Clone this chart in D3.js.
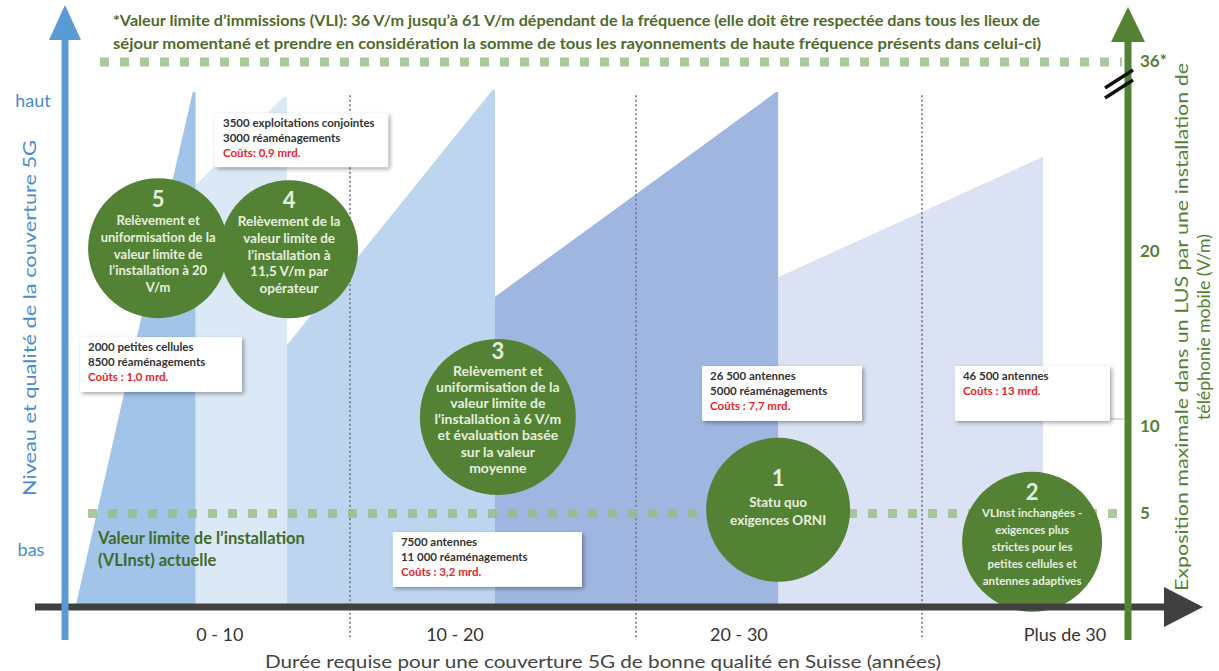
<!DOCTYPE html>
<html><head><meta charset="utf-8">
<script src="https://cdn.jsdelivr.net/npm/d3@7/dist/d3.min.js"></script>
<style>
html,body{margin:0;padding:0;background:#fff;}
svg{display:block;font-family:Lato,"Open Sans",sans-serif;}
</style></head>
<body>
<svg id="c" width="1219" height="671"></svg>
<script>
// ---------- DATA ----------
const categories = ["0 - 10", "10 - 20", "20 - 30", "Plus de 30"];
const categoryLabelYears = [5.45, 13.67, 23.6, 35.0];
const separatorYears = [10, 20, 30];
const rightTicks = [5, 10, 20];
const rightTopTick = 36;
const scenarioIds = ["2", "1", "3", "4", "5"];
// polygons: [year, coverage level 0..100]
const scenario2 = [[24.97,0],[24.97,63.8],[34.2,87.0],[34.23,87.0],[34.23,0]];
const scenario1 = [[15.07,0],[15.07,60.0],[24.9,99.6],[24.97,99.6],[24.97,0]];
const scenario3 = [[7.8,0],[7.8,50.7],[14.98,100],[15.07,100],[15.07,0]];
const scenario4 = [[4.6,0],[4.6,81.6],[7.66,98.6],[7.8,98.6],[7.8,0]];
const scenario5 = [[0.4,0],[4.5,99.6],[4.6,99.6],[4.6,0]];
const scenarioPolys = [scenario2, scenario1, scenario3, scenario4, scenario5];

const circleIds = ["5","4","3","1","2"];
const circleTexts = [
  ["Relèvement et","uniformisation de la","valeur limite de","l’installation à 20","V/m"],
  ["Relèvement de la","valeur limite de","l’installation à","11,5 V/m  par","opérateur"],
  ["Relèvement et","uniformisation de la","valeur limite de","l’installation à 6 V/m","et évaluation basée","sur la valeur","moyenne"],
  ["Statu quo","exigences ORNI"],
  ["VLInst inchangées -","exigences plus","strictes pour les","petites cellules et","antennes adaptives"]
];
const boxTexts = [
  ["3500 exploitations  conjointes","3000 réaménagements"],
  ["2000 petites cellules","8500 réaménagements"],
  ["7500 antennes","11 000 réaménagements"],
  ["26 500 antennes","5000 réaménagements"],
  ["46 500 antennes"]
];
const boxCosts = ["Coûts:  0,9 mrd.","Coûts : 1,0 mrd.","Coûts :  3,2 mrd.","Coûts : 7,7 mrd.","Coûts : 13 mrd."];

const noteLines = [
  "*Valeur limite d’immissions (VLI): 36 V/m jusqu’à 61 V/m dépendant de la fréquence (elle doit être respectée dans tous les lieux de",
  "séjour momentané et prendre en considération la somme de tous les rayonnements de haute fréquence présents dans celui-ci)"
];
const xTitle = "Durée requise pour une couverture 5G de bonne qualité en Suisse (années)";
const leftTitle = "Niveau et qualité de la couverture 5G";
const rightTitle = ["Exposition maximale dans un LUS par une installation de","téléphonie mobile  (V/m)"];

// ---------- LAYOUT / STYLE ----------
const svg = d3.select("#c");
const x = d3.scaleLinear().domain([0, 40]).range([64, 1208]);
const cov = d3.scaleLinear().domain([0, 100]).range([607, 90]);
const vm = d3.scaleLinear().domain([0, 20, 36]).range([600, 250, 60]);

const polyColors = {"2":"#dae2f3","1":"#9fb6e1","3":"#bdd5ef","4":"#dbe8f6","5":"#a1c4e8"};
const green = "#548235", blue = "#5b9bd5", dark = "#404040";

const defs = svg.append("defs");
const f = defs.append("filter").attr("id","sh").attr("x","-10%").attr("y","-20%").attr("width","125%").attr("height","150%");
f.append("feDropShadow").attr("dx",2).attr("dy",2).attr("stdDeviation",2).attr("flood-color","#000").attr("flood-opacity",0.35);

// polygons
const line = d3.line().x(d => x(d[0])).y(d => cov(d[1]));
svg.append("g").selectAll("path").data(scenarioPolys).join("path")
  .attr("d", d => line(d) + "Z")
  .attr("fill", (d,i) => polyColors[scenarioIds[i]]);

// vertical separators
svg.append("g").selectAll("line").data(separatorYears).join("line")
  .attr("x1", d => x(d)).attr("x2", d => x(d))
  .attr("y1", cov(99)).attr("y2", 640)
  .attr("stroke", "#6f7480").attr("stroke-width", 1.6).attr("stroke-dasharray", "2,2.5");

// gray reference line near 10 V/m
svg.append("line").attr("x1", x(34.23)).attr("x2", 1124)
  .attr("y1", vm(10) - 6).attr("y2", vm(10) - 6)
  .attr("stroke", "#b8b8b8").attr("stroke-width", 1.2);

// dotted limit lines
svg.append("line").attr("x1", 100).attr("x2", 1122).attr("y1", vm(rightTopTick)+2).attr("y2", vm(rightTopTick)+2)
  .attr("stroke", "#a9c99b").attr("stroke-width", 9).attr("stroke-dasharray", "9,11");
svg.append("line").attr("x1", 88).attr("x2", 1120).attr("y1", vm(5)+1).attr("y2", vm(5)+1)
  .attr("stroke", "#98bd88").attr("stroke-width", 9).attr("stroke-dasharray", "9,11").attr("opacity", 0.8);

// boxes
const boxPos = [ // [year0, year1, cov0(top), cov1(bottom)]
  [5.28, 11.33, 95.5, 85.1],
  [0.56, 6.22, 52.2, 41.6],
  [11.5, 18.11, 14.5, 3.9],
  [22.31, 27.9, 46.6, 36.0],
  [31.15, 36.57, 46.6, 36.0]
];
boxPos.forEach((b, i) => {
  const g = svg.append("g");
  const x0 = x(b[0]), x1 = x(b[1]), y0 = cov(b[2]), y1 = cov(b[3]);
  g.append("rect").attr("x", x0).attr("y", y0).attr("width", x1 - x0).attr("height", y1 - y0)
    .attr("fill", "#fff").attr("filter", "url(#sh)");
  const lines = boxTexts[i];
  lines.forEach((t, j) => {
    g.append("text").attr("x", x0 + 8).attr("y", y0 + 14 + j * 15)
      .attr("font-size", 11.5).attr("font-weight", "bold").attr("fill", "#333").text(t);
  });
  g.append("text").attr("x", x0 + 8).attr("y", y0 + 14 + lines.length * 15)
    .attr("font-size", 11.5).attr("font-weight", "bold").attr("fill", "#e8262a").text(boxCosts[i]);
});

// circles
const circlePos = [ // [year, cov, r, numberOffset, lineStart, lineStep, fontSize]
  [3.29, 69.4, 70, -50, -28, 16.7, 13],
  [7.87, 69.2, 69, -50, -28, 16.7, 13.5],
  [15.17, 36.75, 78, -67, -47, 16.2, 14],
  [24.97, 18.8, 72, -32, -8, 18, 13.5],
  [33.85, 12.6, 70, -50, -29, 16.8, 11.5]
];
circlePos.forEach((c, i) => {
  const g = svg.append("g");
  const cx = x(c[0]), cy = cov(c[1]);
  g.append("circle").attr("cx", cx).attr("cy", cy).attr("r", c[2]).attr("fill", green);
  g.append("text").attr("x", cx).attr("y", cy + c[3]).attr("text-anchor", "middle")
    .attr("dominant-baseline", "central").attr("font-size", 22).attr("font-weight", "bold")
    .attr("fill", "#e6efde").text(circleIds[i]);
  circleTexts[i].forEach((t, j) => {
    g.append("text").attr("x", cx).attr("y", cy + c[4] + j * c[5]).attr("text-anchor", "middle")
      .attr("dominant-baseline", "central").attr("font-size", c[6]).attr("font-weight", "bold")
      .attr("fill", "#e6efde").text(t);
  });
});

// VLinst label
svg.append("text").attr("x", 98).attr("y", vm(5) + 31).attr("font-size", 16.5).attr("font-weight", "bold")
  .attr("fill", "#3f6a2a").text("Valeur limite de l’installation");
svg.append("text").attr("x", 98).attr("y", vm(5) + 53).attr("font-size", 16.5).attr("font-weight", "bold")
  .attr("fill", "#3f6a2a").text("(VLInst) actuelle");

// note at top
noteLines.forEach((t, i) => {
  svg.append("text").attr("x", 113).attr("y", 26 + i * 23).attr("font-size", 15.5).attr("font-weight", "bold")
    .attr("fill", "#4f6b2a").attr("textLength", i === 0 ? 927 : 928).attr("lengthAdjust", "spacingAndGlyphs").text(t);
});

// x axis
svg.append("line").attr("x1", 35).attr("x2", 1170).attr("y1", cov(0)).attr("y2", cov(0))
  .attr("stroke", dark).attr("stroke-width", 7);
svg.append("path").attr("d", `M1164,${cov(0)-20} L1203,${cov(0)} L1164,${cov(0)+20} Z`).attr("fill", dark);

// left axis (blue)
svg.append("line").attr("x1", x(0)+1).attr("x2", x(0)+1).attr("y1", 640).attr("y2", 30)
  .attr("stroke", blue).attr("stroke-width", 7);
svg.append("path").attr("d", `M${x(0)+1-16},40 L${x(0)+1},5 L${x(0)+1+16},40 Z`).attr("fill", blue);

// right axis (green)
const rx = 1128;
svg.append("line").attr("x1", rx).attr("x2", rx).attr("y1", 640).attr("y2", 35)
  .attr("stroke", green).attr("stroke-width", 7);
svg.append("path").attr("d", `M${rx-17},42 L${rx},7 L${rx+17},42 Z`).attr("fill", green);

// break mark
svg.append("g").selectAll("line").data([0, 10]).join("line")
  .attr("x1", 1105).attr("y1", d => 88 + d)
  .attr("x2", 1133).attr("y2", d => 70 + d)
  .attr("stroke", "#111").attr("stroke-width", 3.4);

// right ticks
svg.append("g").selectAll("text").data(rightTicks).join("text")
  .attr("x", 1140).attr("y", d => vm(d)).attr("dominant-baseline", "central")
  .attr("font-size", 17).attr("font-weight", "bold").attr("fill", green).text(d => d);
svg.append("text").attr("x", 1140).attr("y", vm(rightTopTick)).attr("dominant-baseline", "central")
  .attr("font-size", 17).attr("font-weight", "bold").attr("fill", green).text(rightTopTick + "*");

// category labels
svg.append("g").selectAll("text").data(categories).join("text")
  .attr("x", (d, i) => x(categoryLabelYears[i])).attr("y", 641).attr("text-anchor", "middle")
  .attr("font-size", 18).attr("fill", "#333").text(d => d);
svg.append("text").attr("x", 603).attr("y", 668).attr("text-anchor", "middle")
  .attr("font-size", 17).attr("fill", "#444").attr("textLength", 676).attr("lengthAdjust", "spacingAndGlyphs").text(xTitle);

// left labels
svg.append("text").attr("x", 33).attr("y", cov(98)).attr("text-anchor", "middle").attr("dominant-baseline", "central")
  .attr("font-size", 18).attr("fill", "#4a8bcf").text("haut");
svg.append("text").attr("x", 31).attr("y", vm(5) + 36).attr("text-anchor", "middle").attr("dominant-baseline", "central")
  .attr("font-size", 18).attr("fill", "#4a8bcf").text("bas");
svg.append("text").attr("transform", "translate(36,318) rotate(-90)").attr("text-anchor", "middle")
  .attr("font-size", 17).attr("fill", "#4a8bcf").attr("textLength", 356).attr("lengthAdjust", "spacingAndGlyphs").text(leftTitle);

// right title
svg.append("text").attr("transform", "translate(1188,327) rotate(-90)").attr("text-anchor", "middle")
  .attr("font-size", 17).attr("fill", green).attr("textLength", 528).attr("lengthAdjust", "spacingAndGlyphs").text(rightTitle[0]);
svg.append("text").attr("transform", "translate(1210,327) rotate(-90)").attr("text-anchor", "middle")
  .attr("font-size", 17).attr("fill", green).attr("textLength", 186).attr("lengthAdjust", "spacingAndGlyphs").text(rightTitle[1]);
</script>
</body></html>
